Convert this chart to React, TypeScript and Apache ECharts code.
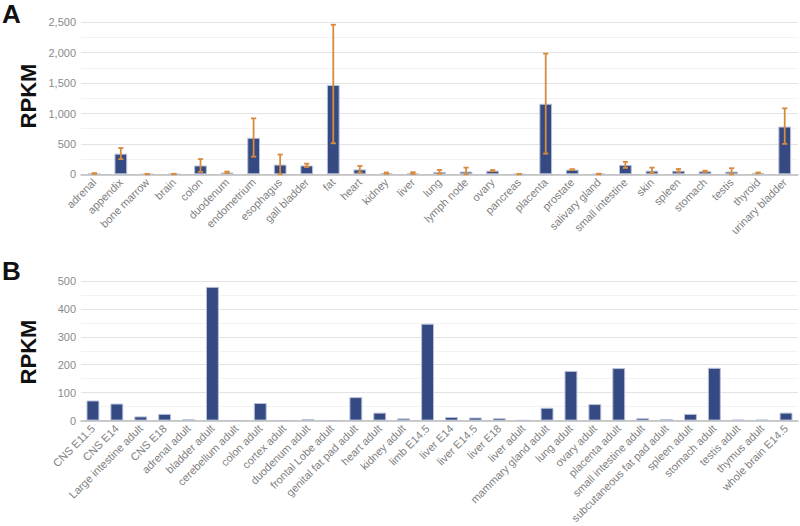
import React, { useEffect, useRef } from 'react';
import * as echarts from 'echarts';

const categoriesA = [
  'adrenal', 'appendix', 'bone marrow', 'brain', 'colon', 'duodenum', 'endometrium',
  'esophagus', 'gall bladder', 'fat', 'heart', 'kidney', 'liver', 'lung', 'lymph node',
  'ovary', 'pancreas', 'placenta', 'prostate', 'salivary gland', 'small intestine',
  'skin', 'spleen', 'stomach', 'testis', 'thyroid', 'urinary bladder',
];
const valuesA = [10, 340, 2, 3, 145, 30, 600, 160, 145, 1470, 80, 18, 15, 40, 45, 60, 2, 1160, 77, 5, 155, 60, 60, 50, 45, 22, 785];
const errLowA = [5, 250, 0, 0, 40, 20, 290, 0, 120, 510, 27, 8, 5, 10, 0, 50, 0, 340, 70, 0, 105, 25, 40, 40, 0, 15, 500];
const errHighA = [20, 432, 5, 8, 250, 45, 920, 325, 175, 2460, 137, 30, 35, 72, 110, 70, 5, 1985, 85, 10, 205, 110, 88, 60, 100, 30, 1085];

const categoriesB = [
  'CNS E11.5', 'CNS E14', 'Large intestine adult', 'CNS E18', 'adrenal adult', 'bladder adult',
  'cerebellum adult', 'colon adult', 'cortex adult', 'duodenum adult', 'frontal Lobe adult',
  'genital fat pad adult', 'heart adult', 'kidney adult', 'limb E14.5', 'liver E14', 'liver E14.5',
  'liver E18', 'liver adult', 'mammary gland adult', 'lung adult', 'ovary adult', 'placenta adult',
  'small intestine adult', 'subcutaneous fat pad adult', 'spleen adult', 'stomach adult',
  'testis adult', 'thymus adult', 'whole brain E14.5',
];
const valuesB = [72, 61, 15, 24, 4.5, 479, 0, 63, 0, 5.5, 0, 84, 28.5, 8, 347, 13, 11, 9, 1.5, 46, 178, 59, 188, 9, 5, 24, 189, 3, 3, 28.5];

const BAR = '#354a82';
const ERR = '#d98b3c';
const FONT = '"Liberation Sans", Arial, Helvetica, sans-serif';

export default function App() {
  const ref = useRef<HTMLDivElement>(null);
  useEffect(() => {
    const chart = echarts.init(ref.current!, null, { renderer: 'svg' });
    const errData = categoriesA.map((_, i) => [i, errLowA[i], errHighA[i]]);
    const yAxisCommon = (max: number, interval: number, gridIndex: number) => ({
      type: 'value' as const,
      gridIndex,
      min: 0,
      max,
      interval,
      axisLine: { show: false },
      axisTick: { show: false },
      axisLabel: { color: '#8a8a8a', fontSize: 11, fontFamily: FONT, margin: 5 },
      splitLine: { show: true, lineStyle: { color: '#e3e3e3', width: 1.2 } },
      minorTick: { show: false, splitNumber: 2 },
      minorSplitLine: { show: true, lineStyle: { color: '#f3f3f3', width: 1 } },
    });
    const xAxisCommon = (data: string[], gridIndex: number) => ({
      type: 'category' as const,
      gridIndex,
      data,
      axisLine: { show: true, lineStyle: { color: '#bdbdbd', width: 1.5 } },
      axisTick: { show: false },
      axisLabel: { rotate: 45, interval: 0, color: '#808080', fontSize: 11, fontFamily: FONT, margin: 6 },
    });
    chart.setOption({
      animation: false,
      backgroundColor: '#ffffff',
      grid: [
        { left: 81, right: 2, top: 22.3, height: 152, containLabel: false },
        { left: 81, right: 2, top: 281, height: 152.7, containLabel: false },
      ],
      xAxis: [xAxisCommon(categoriesA, 0), xAxisCommon(categoriesB, 1)],
      yAxis: [yAxisCommon(2500, 500, 0), yAxisCommon(500, 100, 1)],
      graphic: [
        { type: 'text', left: 2, top: 1, style: { text: 'A', font: `bold 26px ${FONT}`, fill: '#111' } },
        { type: 'text', left: 2, top: 258, style: { text: 'B', font: `bold 26px ${FONT}`, fill: '#111' } },
        { type: 'text', x: 28, y: 96, rotation: Math.PI / 2, style: { text: 'RPKM', font: `bold 22px ${FONT}`, fill: '#111', align: 'center', verticalAlign: 'middle' } },
        { type: 'text', x: 28, y: 352, rotation: Math.PI / 2, style: { text: 'RPKM', font: `bold 22px ${FONT}`, fill: '#111', align: 'center', verticalAlign: 'middle' } },
      ],
      series: [
        {
          type: 'bar',
          xAxisIndex: 0,
          yAxisIndex: 0,
          data: valuesA,
          barWidth: '48%',
          itemStyle: { color: BAR, borderColor: '#b9c2da', borderWidth: 1 },
        },
        {
          type: 'custom',
          xAxisIndex: 0,
          yAxisIndex: 0,
          data: errData,
          encode: { x: 0, y: [1, 2] },
          z: 10,
          renderItem: (params: any, api: any) => {
            const x = api.value(0);
            const pLo = api.coord([x, api.value(1)]);
            const pHi = api.coord([x, api.value(2)]);
            const hw = 2.6;
            const style = { stroke: ERR, lineWidth: 1.8 };
            return {
              type: 'group',
              children: [
                { type: 'line', shape: { x1: pHi[0], y1: pHi[1], x2: pLo[0], y2: pLo[1] }, style },
                { type: 'line', shape: { x1: pHi[0] - hw, y1: pHi[1], x2: pHi[0] + hw, y2: pHi[1] }, style },
                { type: 'line', shape: { x1: pLo[0] - hw, y1: pLo[1], x2: pLo[0] + hw, y2: pLo[1] }, style },
              ],
            };
          },
        },
        {
          type: 'bar',
          xAxisIndex: 1,
          yAxisIndex: 1,
          data: valuesB,
          barWidth: '54%',
          itemStyle: { color: BAR, borderColor: '#b9c2da', borderWidth: 1 },
        },
      ],
    });
    return () => chart.dispose();
  }, []);
  return <div ref={ref} style={{ position: 'fixed', left: 0, top: 0, width: 800, height: 526 }} />;
}
